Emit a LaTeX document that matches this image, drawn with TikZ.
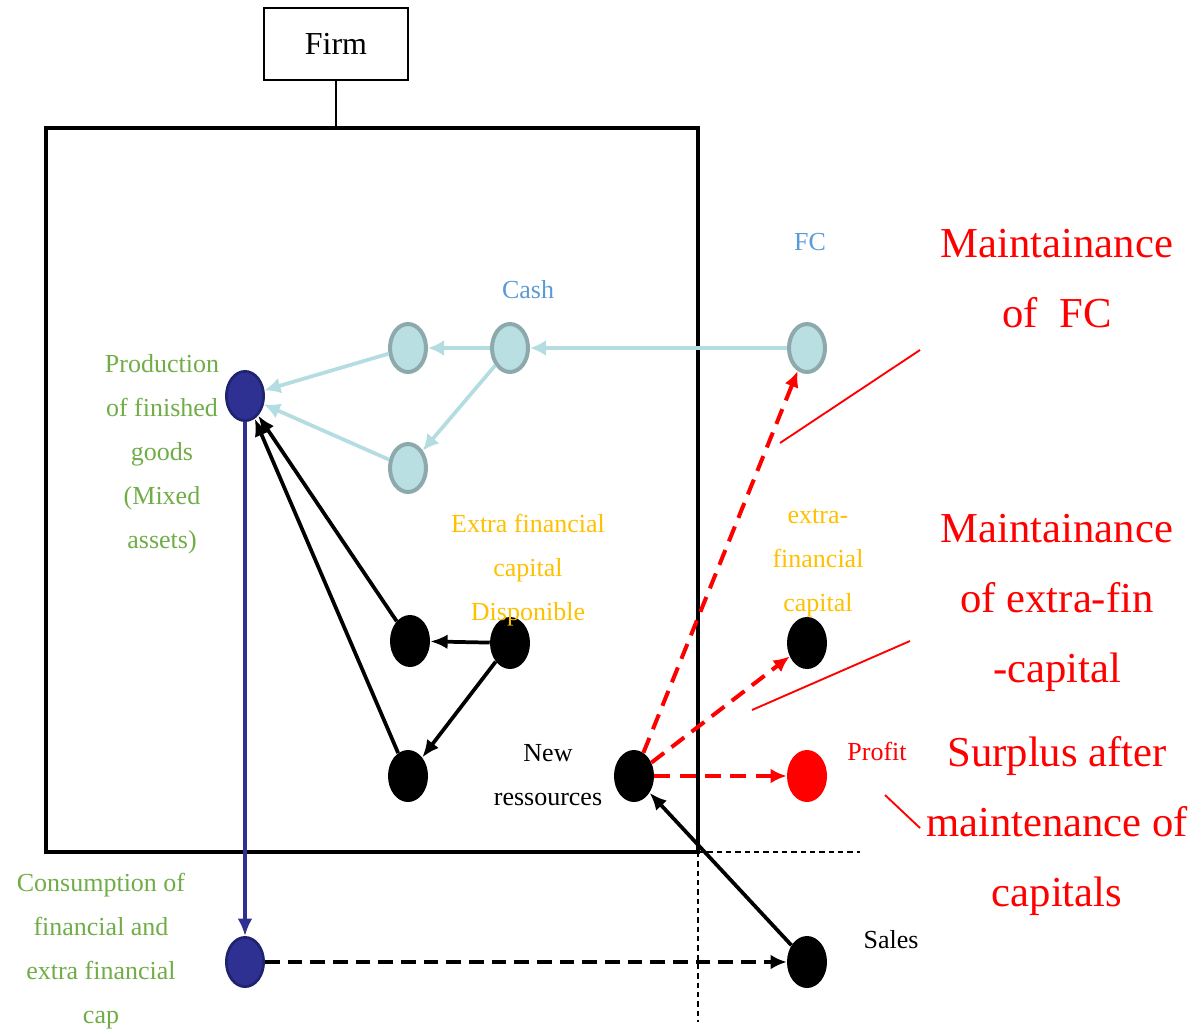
\documentclass[tikz,border=0pt]{standalone}
\usepackage{fontspec}
\setmainfont{Liberation Serif}
\usetikzlibrary{shapes.geometric,arrows.meta}

\definecolor{cashfill}{HTML}{B9DFE3}
\definecolor{cashedge}{HTML}{8DA9AB}
\definecolor{cashline}{HTML}{B4DDE2}
\definecolor{navyfill}{HTML}{2E3192}
\definecolor{navyedge}{HTML}{1F2470}
\definecolor{labelblue}{HTML}{5B9BD5}
\definecolor{labelgreen}{HTML}{70AD47}
\definecolor{labelgold}{HTML}{FFC000}

\tikzset{
  dot/.style={ellipse,minimum width=30pt,minimum height=39pt,inner sep=0pt,fill=black},
  cashdot/.style={dot,fill=cashfill,draw=cashedge,line width=3pt,minimum width=27pt,minimum height=36pt},
  navydot/.style={dot,fill=navyfill,draw=navyedge,line width=2pt,minimum width=28pt,minimum height=37pt},
  reddot/.style={dot,fill=red},
  small/.style={font=\fontsize{19.5}{33}\selectfont,align=center},
  big/.style={font=\fontsize{32}{52.5}\selectfont,align=center,text=red},
  bluearrow/.style={draw=cashline,line width=2.8pt,-{Latex[length=12pt,width=12pt]}},
  blackarrow/.style={line width=2.8pt,-{Latex[length=13pt,width=11pt]}},
  navyarrow/.style={draw=navyfill,line width=2.4pt,-{Latex[length=13pt,width=11pt]}},
  redarrow/.style={draw=red,line width=3pt,dash pattern=on 12pt off 7pt,-{Latex[length=12pt,width=11pt]}},
  dasharrow/.style={line width=3pt,dash pattern=on 11pt off 6pt,-{Latex[length=12pt,width=11pt]}},
  guide/.style={line width=1pt,dash pattern=on 4pt off 3pt},
  callout/.style={draw=red,line width=1.4pt}
}

\begin{document}
\begin{tikzpicture}[x=0.75pt,y=-0.75pt]
  \useasboundingbox (0,0) rectangle (1201,1028);

  % firm box and frame
  \node (firm) at (336,44) [draw,line width=0.8pt,minimum width=108pt,minimum height=54pt,font=\fontsize{24}{28}\selectfont] {Firm};
  \coordinate (top) at (336,128);
  \draw[line width=1.6pt] (firm) -- (top);
  \draw[line width=3.4pt] (46,128) rectangle (698,852);
  \coordinate (cross) at (698,852);
  \coordinate (guideh) at (860,852);
  \coordinate (guidev) at (698,1022);
  \draw[guide] (cross) -- (guideh);
  \draw[guide] (cross) -- (guidev);

  % nodes
  \node (casha) at (408,348) [cashdot] {};
  \node (cashb) at (510,348) [cashdot] {};
  \node (cashc) at (408,468) [cashdot] {};
  \node (fc) at (807,348) [cashdot] {};
  \node (prod) at (245,396) [navydot] {};
  \node (cons) at (245,962) [navydot] {};
  \node (extraa) at (410,641) [dot] {};
  \node (extrab) at (510,643) [dot] {};
  \node (extrac) at (408,776) [dot] {};
  \node (newres) at (634,776) [dot] {};
  \node (extraf) at (807,643) [dot] {};
  \node (profit) at (807,776) [reddot] {};
  \node (sales) at (807,962) [dot] {};

  % labels
  \node (cashlbl) at (528,290) [small,text=labelblue] {Cash};
  \node (fclbl) at (810,242) [small,text=labelblue] {FC};
  \node (prodlbl) at (162,454) [small,text=labelgreen] {Production\\of finished\\goods\\(Mixed\\assets)};
  \node (extralbl) at (528,570) [small,text=labelgold] {Extra financial\\capital\\Disponible};
  \node (extraflbl) at (818,563) [small,text=labelgold] {extra-\\financial\\capital};
  \node (newlbl) at (548,775) [small] {New\\ressources};
  \node (profitlbl) at (877,751) [small,text=red] {Profit};
  \node (saleslbl) at (891,940) [small] {Sales};
  \node (conslbl) at (101,951) [small,text=labelgreen] {Consumption of\\financial and\\extra financial\\cap};
  \node (mfc) at (1057,279) [big] {Maintainance\\of\enspace FC};
  \node (mext) at (1057,603) [big] {Maintainance\\of extra-fin\\-capital};
  \node (surplus) at (1057,826) [big] {Surplus after\\maintenance of\\capitals};

  % cash flows
  \draw[bluearrow] (fc) -- (cashb);
  \draw[bluearrow] (cashb) -- (casha);
  \draw[bluearrow] (cashb) -- (cashc);
  \draw[bluearrow] (casha) -- (prod);
  \draw[bluearrow] (cashc) -- (prod);

  % extra financial capital
  \draw[blackarrow] (extraa) -- (prod);
  \draw[blackarrow] (extrac) -- (prod);
  \draw[blackarrow] (extrab) -- (extraa);
  \draw[blackarrow] (extrab) -- (extrac);

  % consumption and sales
  \draw[navyarrow] (prod) -- (cons);
  \draw[dasharrow] (cons) -- (sales);
  \draw[blackarrow] (sales) -- (newres);

  % new ressources
  \draw[redarrow] (newres) -- (fc);
  \draw[redarrow] (newres) -- (extraf);
  \draw[redarrow] (newres) -- (profit);

  % callouts
  \coordinate (ca1) at (780,443);
  \coordinate (ca2) at (920,350);
  \coordinate (cb1) at (752,710);
  \coordinate (cb2) at (910,641);
  \coordinate (cc1) at (885,795);
  \coordinate (cc2) at (920,828);
  \draw[callout] (ca1) -- (ca2);
  \draw[callout] (cb1) -- (cb2);
  \draw[callout] (cc1) -- (cc2);
\end{tikzpicture}
\end{document}
